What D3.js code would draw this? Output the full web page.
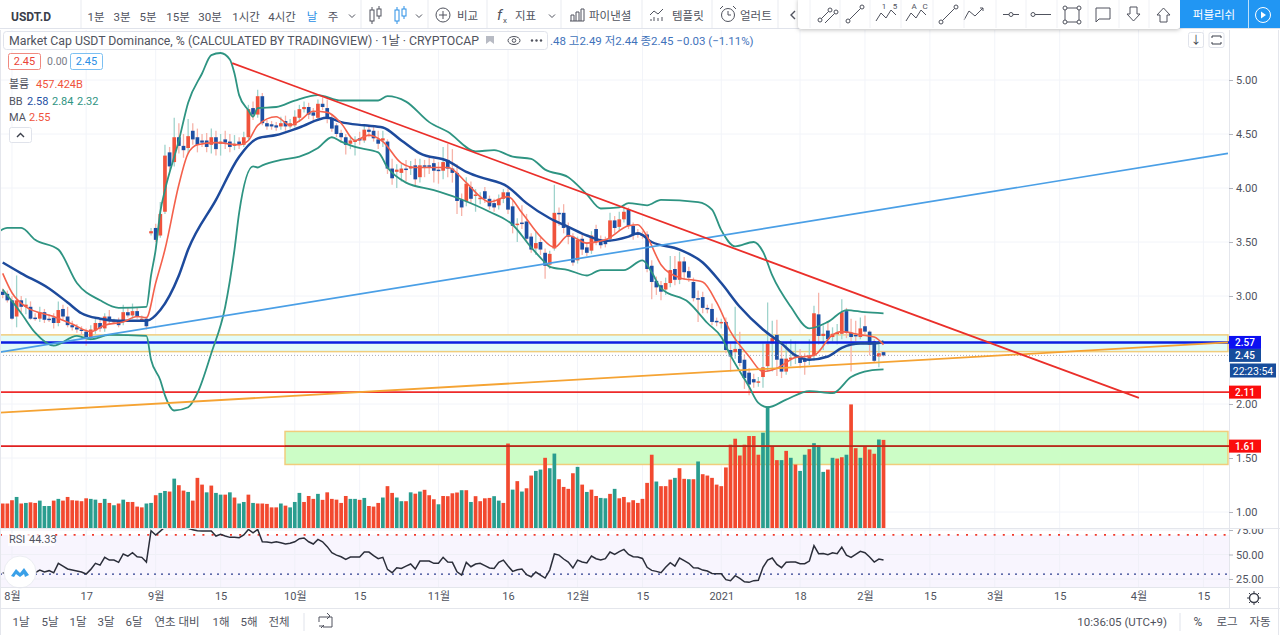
<!DOCTYPE html>
<html>
<head>
<meta charset="utf-8">
<script src="https://cdn.jsdelivr.net/npm/d3@7"></script>
<style>
  html, body { margin: 0; padding: 0; background: #fff; overflow: hidden; }
  text { font-family: Roboto, "Noto Sans CJK KR", sans-serif; fill: #50535e; }
  .axis path, .axis line { stroke: #b2b5be; }
  .axis text { font-size: 11px; fill: #50535e; }
</style>
</head>
<body>
<div id="chart"></div>
<script>
// daily candles, index 0 = 30 Jul 2020
var opens = [3.04,3.02,2.96,2.81,2.96,2.90,2.90,2.80,2.79,2.85,
  2.79,2.80,2.75,2.88,2.81,2.73,2.71,2.69,2.67,2.62,
  2.68,2.75,2.70,2.81,2.77,2.77,2.76,2.85,2.82,2.86,
  2.79,2.79,3.58,3.63,3.56,3.78,4.33,4.24,4.47,4.39,
  4.37,4.53,4.47,4.44,4.44,4.40,4.47,4.41,4.45,4.43,
  4.39,4.43,4.40,4.47,4.74,4.68,4.85,4.60,4.59,4.58,
  4.57,4.62,4.57,4.58,4.65,4.73,4.75,4.70,4.65,4.78,
  4.74,4.65,4.58,4.51,4.47,4.41,4.43,4.46,4.44,4.54,
  4.53,4.45,4.44,4.43,4.18,4.15,4.14,4.18,4.18,4.21,
  4.10,4.21,4.21,4.23,4.17,4.16,4.26,4.18,4.14,3.89,
  3.88,4.01,3.93,3.91,3.97,3.90,3.86,3.84,3.90,3.96,
  3.83,3.66,3.68,3.69,3.55,3.44,3.50,3.40,3.29,3.44,
  3.77,3.77,3.64,3.55,3.33,3.53,3.45,3.42,3.62,3.52,
  3.50,3.53,3.70,3.64,3.71,3.80,3.65,3.58,3.57,3.57,
  3.28,3.14,3.10,3.06,3.12,3.25,3.15,3.32,3.23,3.13,
  2.98,2.99,2.89,2.88,2.77,2.76,2.76,2.50,2.48,2.51,
  2.41,2.29,2.23,2.21,2.25,2.35,2.56,2.64,2.42,2.30,
  2.42,2.43,2.43,2.41,2.42,2.45,2.83,2.63,2.68,2.62,
  2.65,2.65,2.86,2.66,2.64,2.62,2.72,2.67,2.58,2.44,
  2.48];
var closes = [3.01,2.96,2.79,2.96,2.90,2.92,2.79,2.79,2.85,2.78,
  2.78,2.75,2.87,2.81,2.73,2.71,2.69,2.68,2.62,2.69,
  2.75,2.70,2.81,2.77,2.77,2.73,2.85,2.82,2.86,2.81,
  2.79,2.72,3.60,3.52,3.76,4.30,4.20,4.47,4.39,4.35,
  4.48,4.45,4.40,4.42,4.38,4.47,4.36,4.43,4.42,4.38,
  4.41,4.40,4.47,4.73,4.68,4.85,4.60,4.57,4.57,4.56,
  4.60,4.57,4.60,4.66,4.73,4.75,4.68,4.67,4.78,4.75,
  4.64,4.55,4.50,4.47,4.40,4.44,4.44,4.44,4.54,4.52,
  4.46,4.41,4.46,4.18,4.09,4.17,4.18,4.17,4.20,4.08,
  4.21,4.20,4.20,4.16,4.16,4.24,4.18,4.14,3.88,3.82,
  4.04,3.90,3.94,3.91,3.90,3.83,3.82,3.90,3.96,3.80,
  3.65,3.67,3.67,3.53,3.43,3.49,3.43,3.28,3.39,3.77,
  3.76,3.63,3.55,3.31,3.52,3.43,3.40,3.56,3.50,3.47,
  3.48,3.70,3.63,3.71,3.78,3.65,3.57,3.57,3.56,3.25,
  3.13,3.08,3.04,3.12,3.24,3.15,3.32,3.22,3.17,2.98,
  2.97,2.89,2.88,2.76,2.76,2.76,2.50,2.44,2.51,2.38,
  2.24,2.18,2.20,2.21,2.34,2.56,2.61,2.41,2.30,2.42,
  2.43,2.44,2.38,2.39,2.44,2.84,2.63,2.65,2.60,2.65,
  2.66,2.85,2.66,2.62,2.63,2.70,2.67,2.55,2.40,2.47,
  2.45];
var highs = [3.07,3.05,3.00,3.19,3.00,2.98,2.95,2.84,2.90,2.88,
  2.83,2.84,2.95,2.92,2.90,2.77,2.74,2.72,2.70,2.73,
  2.79,2.78,2.84,2.87,2.79,2.80,2.92,2.89,2.93,2.89,
  2.82,2.80,3.63,3.67,3.87,4.40,4.38,4.65,4.60,4.50,
  4.64,4.60,4.55,4.50,4.51,4.55,4.53,4.50,4.53,4.50,
  4.49,4.47,4.52,4.77,4.80,4.91,4.88,4.63,4.62,4.61,
  4.66,4.67,4.64,4.72,4.77,4.80,4.79,4.74,4.82,4.84,
  4.82,4.68,4.60,4.54,4.50,4.47,4.48,4.52,4.58,4.58,
  4.57,4.53,4.53,4.45,4.27,4.22,4.22,4.26,4.25,4.27,
  4.27,4.26,4.28,4.27,4.24,4.38,4.41,4.36,4.22,3.95,
  4.10,4.06,3.99,3.96,4.01,3.93,3.90,3.94,3.99,4.00,
  3.88,3.72,3.84,3.76,3.58,3.60,3.54,3.44,3.42,4.03,
  3.82,3.85,3.68,3.58,3.55,3.58,3.50,3.60,3.66,3.56,
  3.55,3.77,3.74,3.78,3.83,3.82,3.68,3.62,3.60,3.60,
  3.33,3.18,3.14,3.17,3.37,3.37,3.41,3.36,3.27,3.17,
  3.05,3.04,2.92,2.93,2.80,2.79,2.80,2.56,2.90,2.67,
  2.46,2.33,2.28,2.25,2.56,2.94,2.77,2.78,2.54,2.57,
  2.60,2.58,2.51,2.47,2.60,2.91,3.03,2.73,2.76,2.71,
  2.74,2.97,2.89,2.79,2.77,2.80,2.82,2.68,2.60,2.58,
  2.49];
var lows = [2.98,2.94,2.78,2.71,2.85,2.83,2.78,2.77,2.76,2.75,
  2.76,2.70,2.72,2.78,2.71,2.68,2.66,2.64,2.54,2.59,
  2.65,2.67,2.67,2.74,2.74,2.71,2.73,2.80,2.79,2.79,
  2.77,2.69,3.56,3.50,3.54,3.76,4.16,4.20,4.32,4.28,
  4.32,4.40,4.33,4.38,4.33,4.32,4.30,4.30,4.36,4.33,
  4.35,4.36,4.38,4.45,4.63,4.65,4.58,4.54,4.54,4.53,
  4.54,4.53,4.55,4.56,4.61,4.70,4.64,4.62,4.62,4.72,
  4.60,4.52,4.47,4.42,4.31,4.36,4.30,4.40,4.42,4.47,
  4.43,4.36,4.38,4.13,4.03,4.00,4.06,4.06,4.12,4.01,
  4.05,4.10,4.13,4.05,4.04,4.08,4.10,4.05,3.76,3.74,
  3.83,3.86,3.78,3.85,3.86,3.80,3.78,3.80,3.86,3.76,
  3.58,3.50,3.62,3.50,3.40,3.38,3.38,3.16,3.25,3.42,
  3.65,3.58,3.48,3.28,3.30,3.38,3.37,3.39,3.47,3.44,
  3.45,3.50,3.58,3.60,3.68,3.62,3.52,3.54,3.53,3.22,
  2.97,3.01,2.96,3.01,3.08,3.10,3.11,3.15,3.13,2.95,
  2.76,2.84,2.84,2.73,2.72,2.70,2.47,2.30,2.42,2.35,
  2.14,2.08,2.15,2.16,2.15,2.30,2.30,2.26,2.24,2.27,
  2.35,2.37,2.33,2.27,2.36,2.40,2.55,2.50,2.55,2.58,
  2.55,2.60,2.61,2.30,2.58,2.60,2.63,2.45,2.39,2.34,
  2.44];
// volume in billions, with the colour each bar shows in the picture
var volumes = [127,127,144,161,127,130,133,130,142,114,
  114,142,151,142,161,144,142,139,154,151,
  147,130,151,130,118,127,147,135,135,111,
  107,127,130,170,182,192,189,256,222,194,
  187,142,260,225,185,220,182,173,173,185,
  158,127,135,173,130,127,127,125,107,107,
  127,116,107,135,182,135,166,151,177,146,
  185,151,147,130,166,151,151,146,156,114,
  111,130,158,217,182,158,139,139,185,178,
  189,198,170,149,123,166,165,180,184,196,
  196,135,165,139,154,156,165,142,130,438,
  199,243,189,206,272,296,303,364,310,386,
  253,213,203,284,317,225,187,199,166,156,
  154,177,203,154,161,133,144,130,151,234,
  380,241,217,217,251,260,310,255,253,253,
  345,279,272,260,225,217,314,432,463,376,
  432,477,477,380,494,631,421,352,352,400,
  364,329,296,380,409,440,428,291,303,364,
  360,367,380,641,414,364,425,407,385,459,
  457];
var volumeSides = "RRRTRTRRTTTRTRRRRRRTTRTRTRTRRRRTTRTTRTRRTRRRTRTTRTRTTRTRRRRRTRTTTRRRTRRRRRRTTRTRRRTRRTTRTRTRRRTRRRRTRTRRRRTTRRTRTRRTTRTTRRRRTRTRRTTRTRRRRRRRRTRRRTRRTRTRRRRRRRRRRRRRTTRRTRTRTTRTTTRTRRTRRTRRRTR".split("");
var rsiValues = [31.4,30.7,27.3,23.3,27,30,31,31.4,34.1,32.1,
  33.5,31.4,41,38.2,35.2,34.1,33.1,32.1,30.1,34.8,
  41,39.2,47.1,44.3,44.3,42,50.5,48.4,51.8,47.7,
  47.1,42.3,74.3,69.9,73.9,78,82,84,84,79,
  76.7,75.3,74.3,73.9,73.9,73.9,68.8,70.5,68.8,67.5,
  67.5,67.1,69.9,75.6,72.2,75.6,63,62.7,62,63,
  62,60.7,61.4,63,66.1,66.8,63,60.7,65.4,63,
  58,51.8,49.4,47.7,45,47.4,47.4,47.4,52.5,52.5,
  48.8,45.7,47.1,34.8,31.4,36.5,35.8,38.2,40.3,35.2,
  43.3,43.3,43.3,41,41,47.1,42.3,42,32.4,29,
  42,37.5,40.3,41,38.6,36.2,35.8,42,44.3,38.2,
  32.8,34.5,35.2,29.4,27.3,32.1,29,26,34.1,50.5,
  49.4,45.4,42.3,36.2,44.3,42.3,41.3,48.4,45.7,44.3,
  45.7,52.5,50.1,52.9,55.2,50.1,47.7,47.4,46,36.9,
  33.8,32.8,31.4,36.9,41.6,38.2,46.4,43.7,41,36.5,
  36.2,34.1,33.1,30.7,30.4,30.4,24.3,23.3,28.4,25.6,
  22.2,21.6,23.3,23.6,36.9,44.3,46.4,39.9,36.5,42,
  42.3,42.3,40.6,40.6,43.3,59,50.8,51.1,49.8,51.8,
  50.8,57.6,49.4,47.1,50.1,53.2,51.8,47.4,42.3,45.4,
  44.33];

// indicator lines, read at the days listed next to each
var upperDays = [-1,1,4,7,12,16,21,25,31,32,33,34,35,38,40,43,45,47,49,50,51,53,54,55,59,63,68,73,77,81,83,87,92,96,102,106,110,114,117,122,126,129,133,135,139,142,150,153,155,158,162,164,166,170,174,178,182,186,190];
var upperBand = [3.59,3.63,3.63,3.52,3.43,3.12,2.96,2.89,2.90,3.19,3.43,3.78,3.98,4.44,4.79,5.06,5.23,5.25,5.19,5.06,4.86,4.72,4.66,4.74,4.75,4.81,4.86,4.81,4.81,4.81,4.85,4.80,4.61,4.52,4.34,4.35,4.29,4.27,4.17,4.10,3.94,3.81,3.82,3.86,3.84,3.89,3.87,3.80,3.61,3.46,3.50,3.41,3.19,2.90,2.70,2.76,2.87,2.85,2.84];
var lowerDays = [0,4,7,11,16,19,23,31,32,34,35,37,40,42,45,48,50,51,54,55,56,60,64,68,71,73,76,81,83,87,93,98,102,105,110,114,117,118,122,126,129,134,138,140,142,148,152,155,157,161,163,165,169,174,179,183,187,190];
var lowerBand = [3.06,2.84,2.66,2.54,2.63,2.60,2.64,2.63,2.41,2.22,2.08,1.94,1.97,2.10,2.47,2.90,3.43,3.77,4.20,4.19,4.21,4.26,4.29,4.37,4.47,4.43,4.38,4.33,4.19,4.05,3.98,3.91,3.84,3.78,3.66,3.45,3.31,3.27,3.24,3.19,3.24,3.24,3.33,3.22,3.07,2.94,2.75,2.62,2.45,2.16,2.01,1.97,2.04,2.12,2.10,2.25,2.31,2.32];
var basisDays = [0,4,10,14,17,21,25,31,34,38,40,46,51,55,59,64,70,73,78,82,86,90,96,100,103,109,113,118,122,126,130,135,137,140,146,151,155,159,164,168,171,174,178,181,185,188,190];
var basisLine = [3.31,3.21,3.07,2.94,2.84,2.79,2.77,2.77,2.87,3.19,3.43,3.89,4.29,4.46,4.49,4.56,4.65,4.61,4.58,4.56,4.44,4.32,4.25,4.15,4.10,4.01,3.86,3.72,3.64,3.56,3.51,3.55,3.58,3.50,3.43,3.31,3.12,2.90,2.69,2.56,2.45,2.41,2.44,2.52,2.56,2.56,2.58];
var maDays = [0,2,5,11,15,19,22,26,29,31,33,35,38,40,42,46,51,53,55,59,62,64,67,70,73,76,79,82,86,89,93,96,100,103,105,109,112,116,119,122,126,130,135,137,139,142,146,151,154,157,161,164,167,171,175,179,181,185,188,190];
var maLine = [3.21,3.03,2.90,2.81,2.74,2.67,2.73,2.76,2.81,2.80,3.12,3.43,4.03,4.32,4.40,4.42,4.40,4.44,4.58,4.66,4.58,4.62,4.71,4.70,4.60,4.44,4.49,4.43,4.23,4.19,4.19,4.19,4.05,3.92,3.87,3.92,3.77,3.55,3.45,3.56,3.49,3.52,3.65,3.66,3.55,3.29,3.17,3.13,2.94,2.67,2.44,2.30,2.33,2.43,2.45,2.64,2.67,2.64,2.62,2.55];

var priceGrid = [1, 1.5, 2, 2.5, 3, 3.5, 4, 4.5, 5];
// 2.50 sits under the price tags on the axis, so it gets no label
var priceTicks = [1, 1.5, 2, 3, 3.5, 4, 4.5, 5];
var rsiTicks = [25, 50, 75];
var timeTickDays = [2,18,33,47,63,77,94,109,124,138,155,172,186,200,214,228,245,259];
var timeTickLabels = ["8월","17","9월","15","10월","15","11월","16","12월","15","2021","18","2월","15","3월","15","4월","15"];
var intervalLabels = ["1분","3분","5분","15분","30분","1시간","4시간","날","주"];
var intervalSpots = [96,122,148,178,210,246,282,312,333];
var rangeLabels = ["1날","5날","1달","3달","6달","연초 대비","1해","5해","전체"];
var rangeSpots = [21,50,78,106,134,177,221,249,279];

var width = 1280, height = 635, paneRight = 1229;
var svg = d3.select('#chart').append('svg').attr('width', width).attr('height', height);

var x = d3.scaleLinear().domain([0, 259]).range([2.7, 1203.4]);
var y = d3.scaleLinear().domain([1, 5]).range([512, 80]);
var yVol = d3.scaleLinear().domain([0, 457.4]).range([528, 439.8]);
var yRsi = d3.scaleLinear().domain([25, 75]).range([579, 530]);

var defs = svg.append('defs');
defs.append('clipPath').attr('id', 'mainClip').append('rect').attr('x', 0).attr('y', 30).attr('width', paneRight).attr('height', 498);
defs.append('clipPath').attr('id', 'rsiClip').append('rect').attr('x', 0).attr('y', 529).attr('width', paneRight).attr('height', 58);
defs.append('clipPath').attr('id', 'rsiAxisClip').append('rect').attr('x', paneRight).attr('y', 529).attr('width', 60).attr('height', 58);

// grid
var grid = svg.append('g').attr('stroke', '#f2f4f9');
grid.selectAll('.v').data(timeTickDays).enter().append('line')
    .attr('x1', function(d){ return x(d) }).attr('x2', function(d){ return x(d) })
    .attr('y1', 30).attr('y2', 587);
grid.selectAll('.h').data(priceGrid).enter().append('line')
    .attr('x1', 0).attr('x2', paneRight)
    .attr('y1', function(d){ return y(d) }).attr('y2', function(d){ return y(d) });

var main = svg.append('g').attr('clip-path', 'url(#mainClip)');

// support zones
function zone(day0, day1, p0, p1, fill) {
    main.append('rect')
        .attr('x', x(day0)).attr('width', x(day1) - x(day0))
        .attr('y', y(p0)).attr('height', y(p1) - y(p0))
        .attr('fill', fill).attr('stroke', '#f0cd7c').attr('stroke-width', 1.5);
}
zone(-2, 264.3, 2.64, 2.485, '#e2fbf9');
zone(60.9, 264.3, 1.746, 1.44, '#ccfdc6');

// volume
var barW = 3.7;
main.selectAll('.vol').data(volumes).enter().append('rect')
    .attr('x', function(d, i){ return x(i) - barW / 2 })
    .attr('y', function(d){ return yVol(d) })
    .attr('width', barW)
    .attr('height', function(d){ return yVol(0) - yVol(d) })
    .attr('fill', function(d, i){ return volumeSides[i] === 'T' ? '#2a9d8f' : '#f2492f' });

// candles
var candles = main.append('g');
candles.selectAll('.wick').data(opens).enter().append('line')
    .attr('x1', function(d, i){ return x(i) }).attr('x2', function(d, i){ return x(i) })
    .attr('y1', function(d, i){ return y(highs[i]) }).attr('y2', function(d, i){ return y(lows[i]) })
    .attr('stroke', function(d, i){ return closes[i] >= d ? '#9fd3cc' : '#f6b3a9' })
    .attr('stroke-width', 1.3);
candles.selectAll('.body').data(opens).enter().append('rect')
    .attr('x', function(d, i){ return x(i) - barW / 2 })
    .attr('y', function(d, i){ return y(Math.max(d, closes[i])) })
    .attr('width', barW)
    .attr('height', function(d, i){ return Math.max(1.5, Math.abs(y(d) - y(closes[i]))) })
    .attr('fill', function(d, i){ return closes[i] >= d ? '#f0533c' : '#1d4fa3' });

// price level lines
function level(p, color, w, dash) {
    main.append('line').attr('x1', 0).attr('x2', paneRight)
        .attr('y1', y(p)).attr('y2', y(p))
        .attr('stroke', color).attr('stroke-width', w)
        .attr('stroke-dasharray', dash || null);
}
level(2.45, '#a9adb8', 1, '1 2');
level(2.57, '#0a1fe0', 2.4);
level(2.11, '#ee2a2a', 1.6);
level(1.61, '#e02020', 1.6);
main.append('line').attr('x1', x(60.9)).attr('x2', paneRight)
    .attr('y1', y(1.61)).attr('y2', y(1.61)).attr('stroke', '#a5321c').attr('stroke-width', 1.4);

// indicators
function indicator(days, values, color, w) {
    var line = d3.line()
        .x(function(d){ return x(d[0]) })
        .y(function(d){ return y(d[1]) })
        .curve(d3.curveMonotoneX);
    main.append('path').datum(d3.zip(days, values))
        .attr('d', line).attr('fill', 'none')
        .attr('stroke', color).attr('stroke-width', w);
}
indicator(upperDays, upperBand, '#2e9482', 1.8);
indicator(lowerDays, lowerBand, '#2e9482', 1.8);
indicator(basisDays, basisLine, '#1d4a9c', 2.5);
indicator(maDays, maLine, '#f4614c', 1.6);

// drawn trend lines: [start day, start price, end day, end price]
var trendLines = [
    [-0.6, 2.48, 264.3, 4.32, '#4a9fe6', 1.7],
    [-0.6, 1.92, 264.3, 2.57, '#f5a333', 1.8],
    [49.5, 5.157, 245.1, 2.056, '#ea2f2a', 1.8]
];
main.selectAll('.trend').data(trendLines).enter().append('line')
    .attr('x1', function(d){ return x(d[0]) }).attr('y1', function(d){ return y(d[1]) })
    .attr('x2', function(d){ return x(d[2]) }).attr('y2', function(d){ return y(d[3]) })
    .attr('stroke', function(d){ return d[4] }).attr('stroke-width', function(d){ return d[5] });

// RSI pane
var rsiPane = svg.append('g').attr('clip-path', 'url(#rsiClip)');
rsiPane.append('rect').attr('x', 0).attr('width', paneRight)
    .attr('y', yRsi(70)).attr('height', 587 - yRsi(70)).attr('fill', '#f8f5fe');
rsiPane.selectAll('.g').data(rsiTicks).enter().append('line')
    .attr('x1', 0).attr('x2', paneRight).attr('stroke', '#eff0f6')
    .attr('y1', function(d){ return yRsi(d) }).attr('y2', function(d){ return yRsi(d) });
rsiPane.selectAll('.v').data(timeTickDays).enter().append('line')
    .attr('x1', function(d){ return x(d) }).attr('x2', function(d){ return x(d) })
    .attr('y1', 530).attr('y2', 587).attr('stroke', '#f0f0f8');
rsiPane.append('line').attr('x1', 0).attr('x2', paneRight)
    .attr('y1', yRsi(70)).attr('y2', yRsi(70))
    .attr('stroke', '#f0392b').attr('stroke-width', 1.6).attr('stroke-dasharray', '2 7.2');
rsiPane.append('line').attr('x1', 0).attr('x2', paneRight)
    .attr('y1', yRsi(30)).attr('y2', yRsi(30))
    .attr('stroke', '#2d3f8f').attr('stroke-width', 1.3).attr('stroke-dasharray', '2 5');
rsiPane.append('path').datum(rsiValues)
    .attr('d', d3.line().x(function(d, i){ return x(i) }).y(function(d){ return yRsi(d) }))
    .attr('fill', 'none').attr('stroke', '#2b2e3a').attr('stroke-width', 1.5);

// logo over the RSI line
svg.append('circle').attr('cx', 20).attr('cy', 572).attr('r', 16).attr('fill', '#fff').attr('stroke', '#eceef3');
svg.append('path').attr('d', 'M11 576 L16 569 L20 573 L24 568 L29 575 L25 577 L24 574 L20 577 L16 574 L14 577 Z').attr('fill', '#3aa0e8');
svg.append('rect').attr('x', 8).attr('y', 533).attr('width', 47).attr('height', 13).attr('fill', '#fff').attr('opacity', 0.7);
svg.append('text').attr('x', 9).attr('y', 543).attr('font-size', 11).text('RSI');
svg.append('text').attr('x', 29).attr('y', 543).attr('font-size', 11).text('44.33');

// separators
var seps = [[0, 528.5, 1280, 528.5], [0, 587.5, 1280, 587.5], [0, 608.5, 1280, 608.5],
            [paneRight + .5, 30, paneRight + .5, 608], [1278.5, 30, 1278.5, 635], [0.5, 30, 0.5, 635]];
svg.selectAll('.sep').data(seps).enter().append('line')
    .attr('x1', function(d){ return d[0] }).attr('y1', function(d){ return d[1] })
    .attr('x2', function(d){ return d[2] }).attr('y2', function(d){ return d[3] })
    .attr('stroke', '#e4e6ec');

// axes
var axisPrice = d3.axisRight(y).tickValues(priceTicks).tickSize(4).tickFormat(d3.format('.2f'));
svg.append('g').attr('class', 'axis').attr('transform', 'translate(' + paneRight + ',0)').call(axisPrice)
    .call(function(g){ g.select('.domain').remove() });
var axisRsi = d3.axisRight(yRsi).tickValues(rsiTicks).tickSize(4).tickFormat(d3.format('.2f'));
svg.append('g').attr('clip-path', 'url(#rsiAxisClip)').append('g').attr('class', 'axis')
    .attr('transform', 'translate(' + paneRight + ',0)').call(axisRsi)
    .call(function(g){ g.select('.domain').remove() });
var axisTime = d3.axisBottom(x).tickValues(timeTickDays).tickSize(0).tickPadding(5)
    .tickFormat(function(d, i){ return timeTickLabels[i] });
svg.append('g').attr('class', 'axis').attr('transform', 'translate(0,587)').call(axisTime)
    .call(function(g){ g.select('.domain').remove() });

// price tags on the axis
var tagPrices = [2.57, 2.45, 2.11, 1.61];
var tagColors = ['#0c10f2', '#174d9c', '#fb0d0d', '#fb0d0d'];
svg.selectAll('.tag').data(tagPrices).enter().append('rect')
    .attr('x', paneRight).attr('width', 32).attr('height', 13)
    .attr('y', function(d){ return y(d) - 6.5 })
    .attr('fill', function(d, i){ return tagColors[i] });
svg.selectAll('.tagt').data(tagPrices).enter().append('text')
    .attr('x', paneRight + 16).attr('y', function(d){ return y(d) + 3.5 })
    .attr('text-anchor', 'middle').attr('font-size', 10).attr('font-weight', 500)
    .style('fill', '#fff').text(function(d){ return d3.format('.2f')(d) });
svg.append('rect').attr('x', 1230).attr('y', 363.5).attr('width', 46).attr('height', 14).attr('fill', '#174d9c');
svg.append('text').attr('x', 1253).attr('y', 374.5).attr('text-anchor', 'middle').attr('font-size', 10.5)
    .style('fill', '#fff').text('22:23:54');

// top toolbar
var toolbar = svg.append('g');
toolbar.append('rect').attr('width', width).attr('height', 29).attr('fill', '#fff');
toolbar.append('line').attr('x1', 0).attr('x2', width).attr('y1', 28.5).attr('y2', 28.5).attr('stroke', '#e0e3eb');
function toolText(g, tx, ty, s, size, color, weight, anchor) {
    return g.append('text').attr('x', tx).attr('y', ty).attr('font-size', size)
        .attr('font-weight', weight || 400).attr('text-anchor', anchor || 'start')
        .style('fill', color || '#50535e').text(s);
}
toolText(toolbar, 11, 21, 'USDT.D', 12, '#3a3e4a', 700);
intervalLabels.forEach(function(s, i){
    toolText(toolbar, intervalSpots[i], 21, s, 11.5, i === 7 ? '#2a8fe6' : '#50535e', 400, 'middle');
});
[81, 361, 428, 487, 561, 642, 712, 778].forEach(function(sx){
    toolbar.append('line').attr('x1', sx).attr('x2', sx).attr('y1', 0).attr('y2', 28).attr('stroke', '#e9ebf0');
});
function caret(g, cx, cy) {
    g.append('path').attr('d', 'M' + (cx - 3) + ' ' + (cy - 1.5) + 'l3 3l3 -3').attr('fill', 'none').attr('stroke', '#50535e');
}
caret(toolbar, 352, 16); caret(toolbar, 419, 16); caret(toolbar, 552, 16);
// candle type icons
function candleIcon(g, cx, color) {
    g.append('rect').attr('x', cx - 5).attr('y', 10).attr('width', 4).attr('height', 11).attr('fill', 'none').attr('stroke', color);
    g.append('rect').attr('x', cx + 2).attr('y', 9).attr('width', 4).attr('height', 7).attr('fill', 'none').attr('stroke', color);
    g.append('path').attr('d', 'M' + (cx - 3) + ' 7v3M' + (cx - 3) + ' 21v3M' + (cx + 4) + ' 6v3M' + (cx + 4) + ' 16v3').attr('stroke', color);
}
candleIcon(toolbar, 375, '#50535e');
candleIcon(toolbar, 400, '#2a8fe6');
toolbar.append('circle').attr('cx', 443).attr('cy', 15).attr('r', 7).attr('fill', 'none').attr('stroke', '#50535e');
toolbar.append('path').attr('d', 'M439 15h8M443 11v8').attr('stroke', '#50535e');
toolText(toolbar, 457, 20, '비교', 11.5);
toolText(toolbar, 497, 20, 'f', 15, '#50535e').attr('font-style', 'italic');
toolText(toolbar, 503, 23, 'x', 8);
toolText(toolbar, 515, 20, '지표', 11.5);
toolbar.append('path').attr('d', 'M570 21h14M571 21v-6h3v6M576 21v-9h3v9M581 21v-12h3v12').attr('fill', 'none').attr('stroke', '#50535e');
toolText(toolbar, 589, 20, '파이낸셜', 11.5);
toolbar.append('path').attr('d', 'M650 15l4 -4l4 3l5 -5M651 21v-2M654 21v-4M658 21v-3M662 21v-4').attr('fill', 'none').attr('stroke', '#50535e');
toolText(toolbar, 672, 20, '템플릿', 11.5);
toolbar.append('circle').attr('cx', 728).attr('cy', 15).attr('r', 6.5).attr('fill', 'none').attr('stroke', '#50535e');
toolbar.append('path').attr('d', 'M720 9l3 -3M736 9l-3 -3M728 11v4h3').attr('fill', 'none').attr('stroke', '#50535e');
toolText(toolbar, 740, 20, '얼러트', 11.5);
toolbar.append('path').attr('d', 'M795 11l-4 4l4 4').attr('fill', 'none').attr('stroke', '#50535e').attr('stroke-width', 1.4);

// floating drawing toolbar
var panel = svg.append('g');
panel.append('rect').attr('x', 798).attr('y', -2).attr('width', 382).attr('height', 31).attr('rx', 3)
    .attr('fill', '#fff').style('filter', 'drop-shadow(0 1px 2px rgba(0,0,0,.25))');
var panelIcons = [
    'M820 20l10 -10M825 23l11 -11',
    'M848 21l14 -14',
    'M876 21l5 -8l5 5l5 -8l5 5',
    'M906 21l5 -8l5 5l5 -8l5 5',
    'M941 22l15 -15',
    'M964 20l5 -9l6 5l8 -8M980 8h3v3',
    'M1003 14.5h16',
    'M1033 14.5h18',
    'M1065 8h14v14h-14z',
    'M1096 8h14v11h-11l-3 3z',
    'M1130 7h7v7h3l-6.5 7l-6.5 -7h3z',
    'M1160 22v-7h-3l6.5 -7l6.5 7h-3v7z'
];
panel.selectAll('.ic').data(panelIcons).enter().append('path')
    .attr('d', function(d){ return d })
    .attr('fill', 'none').attr('stroke', '#50535e').attr('stroke-width', 1);
var panelDividers = [810, 840, 870, 901, 933, 964, 996, 1026, 1057, 1088, 1119, 1149];
panel.selectAll('.dv').data(panelDividers).enter().append('line')
    .attr('x1', function(d){ return d }).attr('x2', function(d){ return d })
    .attr('y1', 0).attr('y2', 28).attr('stroke', '#f0f1f5');
[[820, 20], [830, 10], [836, 12], [848, 21], [862, 7], [941, 22], [956, 7], [1011, 14.5], [1033, 14.5], [1065, 8], [1079, 8], [1065, 22], [1079, 22]].forEach(function(c){
    panel.append('circle').attr('cx', c[0]).attr('cy', c[1]).attr('r', 2).attr('fill', '#fff').attr('stroke', '#50535e');
});
toolText(panel, 884, 9, '1', 8, '#50535e', 400, 'middle');
toolText(panel, 895, 9, '5', 8, '#50535e', 400, 'middle');
toolText(panel, 914, 9, 'A', 8, '#50535e', 400, 'middle');
toolText(panel, 925, 9, 'C', 8, '#50535e', 400, 'middle');
var publish = svg.append('g');
publish.append('rect').attr('x', 1180).attr('y', 0).attr('width', 100).attr('height', 28).attr('fill', '#2196f3');
publish.append('line').attr('x1', 1248.5).attr('x2', 1248.5).attr('y1', 0).attr('y2', 28).attr('stroke', '#fff').attr('stroke-opacity', .7);
toolText(publish, 1214, 19, '퍼블리쉬', 11.5, '#fff', 400, 'middle');
publish.append('circle').attr('cx', 1263).attr('cy', 15).attr('r', 7.5).attr('fill', 'none').attr('stroke', '#fff');
publish.append('path').attr('d', 'M1261 11.5l5 3.5l-5 3.5z').attr('fill', '#fff');

// legend block
var legend = svg.append('g');
legend.append('rect').attr('x', 3.5).attr('y', 31.5).attr('width', 544).attr('height', 18).attr('rx', 3)
    .attr('fill', '#fff').attr('stroke', '#e0e3eb');
toolText(legend, 9, 45, 'Market Cap USDT Dominance, % (CALCULATED BY TRADINGVIEW) · 1날 · CRYPTOCAP', 12.3, '#50535e');
legend.append('path').attr('d', 'M486 36h8v8l-4 -3l-4 3z').attr('fill', '#b8bbc4');
legend.append('ellipse').attr('cx', 514).attr('cy', 40.5).attr('rx', 6).attr('ry', 4).attr('fill', 'none').attr('stroke', '#50535e');
legend.append('circle').attr('cx', 514).attr('cy', 40.5).attr('r', 1.8).attr('fill', 'none').attr('stroke', '#50535e');
[532, 536.5, 541].forEach(function(dx){ legend.append('circle').attr('cx', dx).attr('cy', 40.5).attr('r', 1.2).attr('fill', '#50535e') });
toolText(legend, 550, 45, '.48 고2.49 저2.44 종2.45 −0.03 (−1.11%)', 11.5, '#3f73bb');
legend.append('rect').attr('x', 8.5).attr('y', 53.5).attr('width', 32).attr('height', 16).attr('rx', 2).attr('fill', '#fff').attr('stroke', '#f08a80');
toolText(legend, 24.5, 65, '2.45', 11, '#ea4335', 400, 'middle');
toolText(legend, 47, 65, '0.00', 10.5, '#787b86');
legend.append('rect').attr('x', 70.5).attr('y', 53.5).attr('width', 32).attr('height', 16).attr('rx', 2).attr('fill', '#fff').attr('stroke', '#7cc0f2');
toolText(legend, 86.5, 65, '2.45', 11, '#2a8fe6', 400, 'middle');
toolText(legend, 9, 88, '볼륨', 11);
toolText(legend, 36, 88, '457.424B', 11, '#f0533c');
toolText(legend, 9, 105, 'BB', 11);
toolText(legend, 27, 105, '2.58', 11, '#1d4fa3');
toolText(legend, 52, 105, '2.84', 11, '#2e9482');
toolText(legend, 77, 105, '2.32', 11, '#2e9482');
toolText(legend, 9, 121, 'MA', 11);
toolText(legend, 29, 121, '2.55', 11, '#f0533c');
legend.append('rect').attr('x', 9.5).attr('y', 127.5).attr('width', 22).attr('height', 15).attr('rx', 2).attr('fill', '#fff').attr('stroke', '#e0e3eb');
legend.append('path').attr('d', 'M17 137l3.5 -3.5l3.5 3.5').attr('fill', 'none').attr('stroke', '#3a3e4a').attr('stroke-width', 1.4);

// chart corner buttons
[[1188, '↓'], [1208.5, '']].forEach(function(b){
    legend.append('rect').attr('x', b[0] + .5).attr('y', 32.5).attr('width', 15).attr('height', 15).attr('rx', 2).attr('fill', '#fff').attr('stroke', '#e0e3eb');
    if (b[1]) toolText(legend, b[0] + 8, 44, b[1], 11, '#3a3e4a', 400, 'middle');
});
legend.append('path').attr('d', 'M1212 38v-2h9v2M1212 42v2h9v-2').attr('fill', 'none').attr('stroke', '#3a3e4a');

// bottom bar
var bottom = svg.append('g');
rangeLabels.forEach(function(s, i){ toolText(bottom, rangeSpots[i], 626, s, 11.5, '#50535e', 400, 'middle') });
bottom.append('line').attr('x1', 304).attr('x2', 304).attr('y1', 613).attr('y2', 631).attr('stroke', '#e0e3eb');
bottom.append('path').attr('d', 'M319 622v-5h13v10h-9M327 613l3 3l-3 3M321 628l3 -3M319 626h5').attr('fill', 'none').attr('stroke', '#50535e');
toolText(bottom, 1167, 626, '10:36:05 (UTC+9)', 11.5, '#50535e', 400, 'end');
bottom.append('line').attr('x1', 1180).attr('x2', 1180).attr('y1', 613).attr('y2', 631).attr('stroke', '#e0e3eb');
toolText(bottom, 1198, 626, '%', 12, '#50535e', 400, 'middle');
toolText(bottom, 1227, 626, '로그', 11.5, '#50535e', 400, 'middle');
toolText(bottom, 1260, 626, '자동', 11.5, '#50535e', 400, 'middle');
bottom.append('circle').attr('cx', 1254).attr('cy', 598).attr('r', 4.5).attr('fill', 'none').attr('stroke', '#3a3e4a').attr('stroke-width', 1.4);
bottom.append('path').attr('d', 'M1254 591v2M1254 603v2M1247 598h2M1259 598h2M1249 593l1.5 1.5M1257.5 601.5l1.5 1.5M1259 593l-1.5 1.5M1250.5 601.5l-1.5 1.5').attr('stroke', '#3a3e4a');
</script>
</body>
</html>
